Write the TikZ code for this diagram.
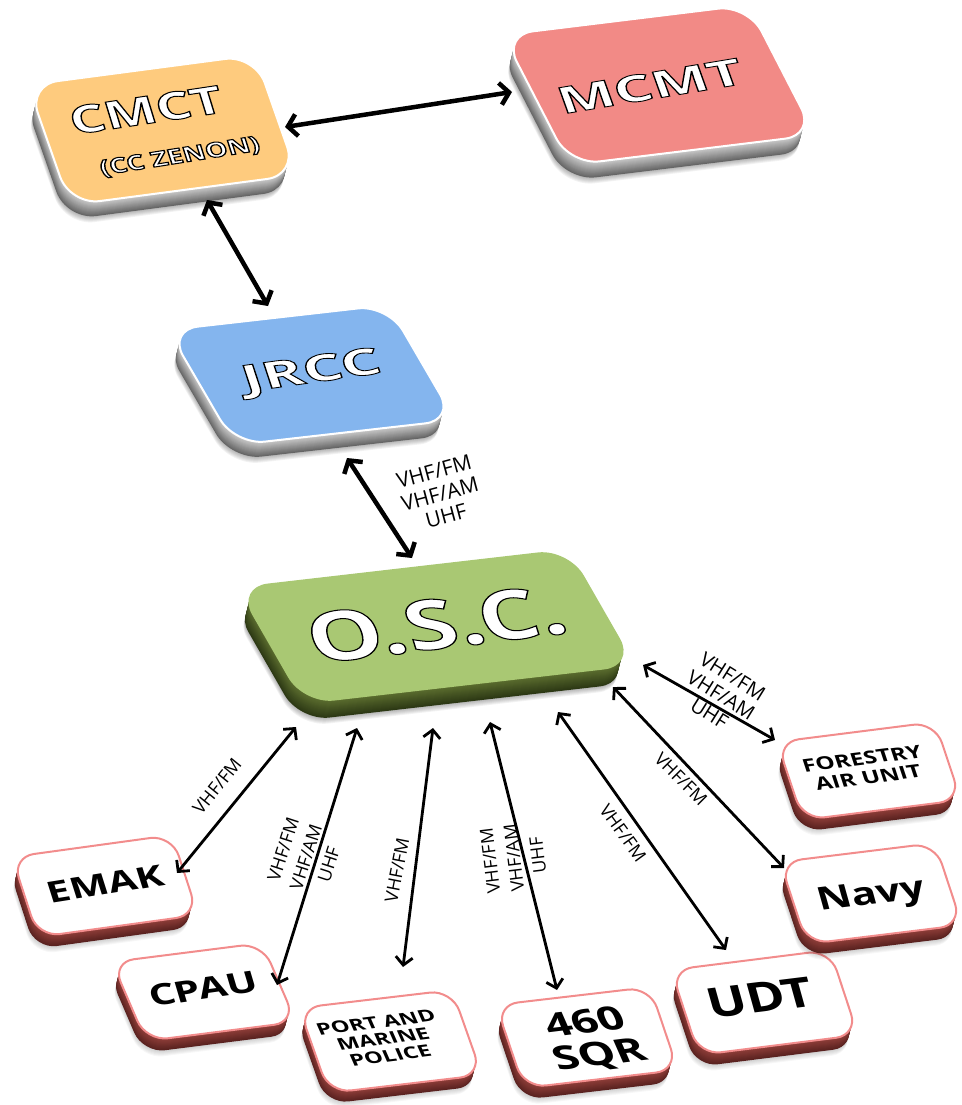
\documentclass[tikz,border=0pt]{standalone}
\usepackage{fontspec}
\setmainfont{Open Sans}
\usetikzlibrary{arrows.meta,calc}
\definecolor{cmctC}{HTML}{FECB7E}
\definecolor{mcmtC}{HTML}{F28A86}
\definecolor{jrccC}{HTML}{84B5EE}
\definecolor{oscC}{HTML}{A9C873}
\definecolor{greyL}{HTML}{CFCFCF}
\definecolor{greyD}{HTML}{666666}
\definecolor{oliveL}{HTML}{5E7030}
\definecolor{oliveD}{HTML}{2C3814}
\definecolor{rimP}{HTML}{F28C8C}
\definecolor{redL}{HTML}{93403B}
\definecolor{redD}{HTML}{5A2220}
\newcommand\outl[1]{\special{pdf:literal direct 1 1 1 rg 0 0 0 RG 1.4 w 2 Tr}#1\special{pdf:literal direct 0 Tr}}
\def\slabr{24pt}
\def\shadowop{0.05}
\newcommand\slab[9]{%
  \coordinate (#1-tl) at (#2);
  \coordinate (#1-tr) at (#3);
  \coordinate (#1-bl) at (#4);
  \coordinate (#1-br) at ($(#1-tr)+(#1-bl)-(#1-tl)$);
  \foreach \dd in {1,...,6}{%
    \pgfmathsetmacro\sh{#5+\dd}%
    \fill[black, opacity=\shadowop, rounded corners=\slabr]
      ([shift={(-0.25*\sh,\sh)}]#1-tl) -- ([shift={(-0.25*\sh,\sh)}]#1-tr) --
      ([shift={(-0.25*\sh,\sh)}]#1-br) -- ([shift={(-0.25*\sh,\sh)}]#1-bl) -- cycle;
  }%
  \foreach \dd in {#5,...,1}{%
    \pgfmathtruncatemacro\pc{100*\dd/#5}%
    \fill[#9!\pc!#8, rounded corners=\slabr]
      ([shift={(-0.25*\dd,\dd)}]#1-tl) -- ([shift={(-0.25*\dd,\dd)}]#1-tr) --
      ([shift={(-0.25*\dd,\dd)}]#1-br) -- ([shift={(-0.25*\dd,\dd)}]#1-bl) -- cycle;
  }%
  \filldraw[fill=#6, draw=#7, line width=2pt, rounded corners=\slabr]
    (#1-tl) -- (#1-tr) -- (#1-br) -- (#1-bl) -- cycle;
}
\tikzset{
  bigarrow/.style={{Straight Barb[length=9pt,width=22pt]}-{Straight Barb[length=9pt,width=22pt]}, line width=4.5pt},
  smallarrow/.style={{Straight Barb[length=8pt,width=17pt]}-{Straight Barb[length=8pt,width=17pt]}, line width=2.8pt},
  toptext/.style={text=white, inner sep=0pt},
  bottext/.style={text=black, inner sep=0pt, align=center},
  lbl/.style={inner sep=0pt, align=center, text=black, font=\fontsize{18}{24}\selectfont},
  biglbl/.style={lbl, font=\fontsize{21}{23}\selectfont},
}
\begin{document}
\begin{tikzpicture}[x=1pt,y=-1pt]
\useasboundingbox (0,0) rectangle (961,1105);
% ---- slabs
\def\slabr{30pt}
\slab{cmctb}{28,85}{255,55}{70,205}{15}{cmctC}{white}{greyL}{greyD}
\slab{mcmtb}{503,35}{748,5}{570,165}{16}{mcmtC}{white}{greyL}{greyD}
\slab{jrccb}{168,330}{388,305}{235,445}{15}{jrccC}{white}{greyL}{greyD}
\slab{oscb}{238,588}{568,550}{304,703}{18}{oscC}{oscC}{oliveL}{oliveD}
\def\slabr{22pt}
\def\shadowop{0.03}
\slab{emakb}{12,857}{172,835}{38,937}{12}{white}{rimP}{redL}{redD}
\slab{cpaub}{112,962}{262,943}{146,1041}{12}{white}{rimP}{redL}{redD}
\slab{portb}{299,1008}{452,990}{329,1093}{11}{white}{rimP}{redL}{redD}
\slab{sqrb}{496,1005}{650,987}{524,1088}{12}{white}{rimP}{redL}{redD}
\slab{udtb}{671,970}{830,950}{699,1055}{12}{white}{rimP}{redL}{redD}
\slab{navyb}{780,862}{935,843}{807,944}{12}{white}{rimP}{redL}{redD}
\slab{forb}{777,742}{935,722}{803,820}{12}{white}{rimP}{redL}{redD}
% ---- box texts
\node[toptext, rotate=8.5, xslant=-0.15, yscale=0.7, font=\bfseries\fontsize{55}{55}\selectfont] (cmct) at (146,110) {\outl{CMCT}};
\node[toptext, rotate=9, xslant=-0.15, yscale=0.75, font=\bfseries\fontsize{28}{28}\selectfont] (zenon) at (180,157) {\outl{(CC ZENON)}};
\node[toptext, rotate=9.5, xslant=-0.18, yscale=0.62, font=\bfseries\fontsize{60}{60}\selectfont] (mcmt) at (650,86) {\outl{MCMT}};
\node[toptext, rotate=8, xslant=-0.18, yscale=0.6, font=\bfseries\fontsize{62}{62}\selectfont] (jrcc) at (312,373) {\outl{JRCC}};
\node[toptext, rotate=7, xslant=-0.18, yscale=0.74, font=\bfseries\fontsize{94}{94}\selectfont] (osc) at (436,624) {\outl{O.S.C.}};
\node[bottext, rotate=9, xslant=-0.15, yscale=0.72, font=\bfseries\fontsize{41}{41}\selectfont] (emak) at (105,884) {EMAK};
\node[bottext, rotate=8, xslant=-0.15, yscale=0.72, font=\bfseries\fontsize{41}{41}\selectfont] (cpau) at (203,989) {CPAU};
\node[bottext, rotate=7, xslant=-0.3, yscale=0.72, font=\bfseries\fontsize{23}{24}\selectfont] (port) at (383,1039) {PORT AND\\MARINE\\POLICE};
\node[bottext, rotate=7, xslant=-0.3, yscale=0.72, font=\bfseries\fontsize{46}{47}\selectfont] (sqr) at (593,1040) {460\\SQR};
\node[bottext, rotate=7, xslant=-0.15, yscale=0.8, font=\bfseries\fontsize{52}{52}\selectfont] (udt) at (760,998) {UDT};
\node[bottext, rotate=7, xslant=-0.15, yscale=0.76, font=\bfseries\fontsize{42}{42}\selectfont] (navy) at (872,897) {Navy};
\node[bottext, rotate=7, xslant=-0.2, yscale=0.75, font=\bfseries\fontsize{24}{26}\selectfont] (forestry) at (865,768) {FORESTRY\\AIR UNIT};
% ---- connector ends
\coordinate (a1) at (285,127);  \coordinate (b1) at (512,92);
\coordinate (a2) at (207,200);  \coordinate (b2) at (268,306);
\coordinate (a3) at (347,458);  \coordinate (b3) at (412,558);
\coordinate (oE) at (296,727);  \coordinate (tE) at (177,873);
\coordinate (oC) at (357,728);  \coordinate (tC) at (277,985);
\coordinate (oP) at (433,728);  \coordinate (tP) at (403,967);
\coordinate (oS) at (490,722);  \coordinate (tS) at (557,990);
\coordinate (oU) at (558,712);  \coordinate (tU) at (726,950);
\coordinate (oN) at (613,687);  \coordinate (tN) at (784,868);
\coordinate (oF) at (643,665);  \coordinate (tF) at (775,740);
% ---- connectors
\draw[bigarrow] (a1) -- (b1);
\draw[bigarrow] (a2) -- (b2);
\draw[bigarrow] (a3) -- (b3);
\draw[smallarrow] (oE) -- (tE);
\draw[smallarrow] (oC) -- (tC);
\draw[smallarrow] (oP) -- (tP);
\draw[smallarrow] (oS) -- (tS);
\draw[smallarrow] (oU) -- (tU);
\draw[smallarrow] (oN) -- (tN);
\draw[smallarrow] (oF) -- (tF);
% ---- labels
\node[biglbl, rotate=15] (l1) at (440,494) {VHF/FM\\VHF/AM\\UHF};
\node[biglbl, rotate=-32, font=\fontsize{20}{22}\selectfont] (l2) at (721,695) {VHF/FM\\VHF/AM\\UHF};
\node[lbl, rotate=51] (l3) at (217,786) {VHF/FM};
\node[lbl, rotate=72] (l4) at (306,857) {VHF/FM\\VHF/AM\\UHF};
\node[lbl, rotate=79] (l5) at (397,870) {VHF/FM};
\node[lbl, rotate=97] (l6) at (514,858) {VHF/FM\\VHF/AM\\UHF};
\node[lbl, rotate=-54] (l7) at (623,833) {VHF/FM};
\node[lbl, rotate=-45] (l8) at (681,779) {VHF/FM};
\end{tikzpicture}
\end{document}
